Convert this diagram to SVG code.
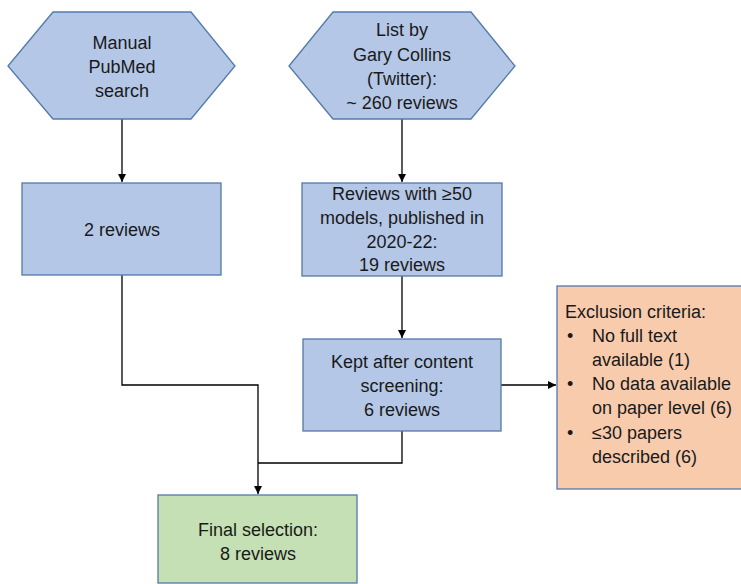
<svg xmlns="http://www.w3.org/2000/svg" width="741" height="584" viewBox="0 0 741 584">
<style>
.blue{fill:#B4C7E7;stroke:#5479AA;stroke-width:1.3}
.green{fill:#C5E0B4;stroke:#5479AA;stroke-width:1.3}
.orange{fill:#F8CBAD;stroke:#5479AA;stroke-width:1.3}
text{font-family:"Liberation Sans",Arial,sans-serif;font-size:18px;fill:#1a1a1a}
.c{text-anchor:middle}
.line{fill:none;stroke:#000;stroke-width:1.3}
</style>
<defs>
<marker id="ah" markerWidth="10" markerHeight="10" refX="8" refY="5" orient="auto" markerUnits="userSpaceOnUse">
<path d="M0,1 L8,5 L0,9 Z" fill="#000"/>
</marker>
</defs>
<rect width="741" height="584" fill="#fff"/>
<g id="connectors">
<path class="line" d="M122,119 V182" marker-end="url(#ah)"/>
<path class="line" d="M402,119 V182" marker-end="url(#ah)"/>
<path class="line" d="M402,276 V338" marker-end="url(#ah)"/>
<path class="line" d="M501,385 H556" marker-end="url(#ah)"/>
<path class="line" d="M122,275 V385 H258 V494" marker-end="url(#ah)"/>
<path class="line" d="M402,431 V463 H258"/>
</g>
<g id="manual-pubmed">
<polygon class="blue" points="8,66 53,12 191,12 235,66 191,119 53,119"/>
<text class="c" x="122" y="49">Manual</text>
<text class="c" x="122" y="73">PubMed</text>
<text class="c" x="122" y="97">search</text>
</g>
<g id="gary-collins">
<polygon class="blue" points="289,66 333,12 471,12 515,66 471,119 333,119"/>
<text class="c" x="402" y="36">List by</text>
<text class="c" x="402" y="61">Gary Collins</text>
<text class="c" x="402" y="85">(Twitter):</text>
<text class="c" x="402" y="109">~ 260 reviews</text>
</g>
<g id="two-reviews">
<rect class="blue" x="22" y="183" width="199" height="92"/>
<text class="c" x="122" y="236">2 reviews</text>
</g>
<g id="nineteen-reviews">
<rect class="blue" x="302" y="183" width="200" height="93"/>
<text class="c" x="402" y="200">Reviews with ≥50</text>
<text class="c" x="402" y="224">models, published in</text>
<text class="c" x="402" y="248">2020-22:</text>
<text class="c" x="402" y="271">19 reviews</text>
</g>
<g id="kept">
<rect class="blue" x="303" y="339" width="198" height="92"/>
<text class="c" x="402" y="368">Kept after content</text>
<text class="c" x="402" y="392">screening:</text>
<text class="c" x="402" y="416">6 reviews</text>
</g>
<g id="exclusion">
<rect class="orange" x="557" y="286" width="190" height="203"/>
<text x="565" y="318">Exclusion criteria:</text>
<text x="567" y="342">•</text>
<text x="592" y="342">No full text</text>
<text x="592" y="366">available (1)</text>
<text x="567" y="390">•</text>
<text x="592" y="390">No data available</text>
<text x="592" y="414">on paper level (6)</text>
<text x="567" y="439">•</text>
<text x="592" y="439">≤30 papers</text>
<text x="592" y="463">described (6)</text>
</g>
<g id="final">
<rect class="green" x="158" y="495" width="199" height="88"/>
<text class="c" x="258" y="536">Final selection:</text>
<text class="c" x="258" y="560">8 reviews</text>
</g>
</svg>
